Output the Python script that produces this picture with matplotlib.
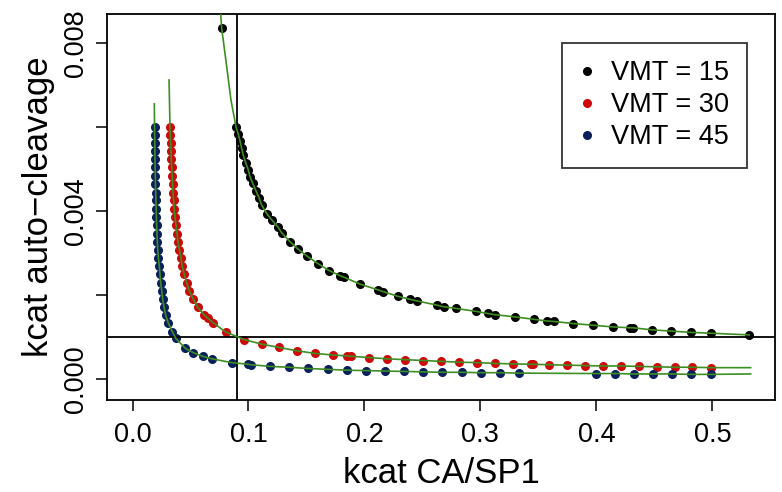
import matplotlib
matplotlib.use("Agg")
import matplotlib.pyplot as plt
from matplotlib.lines import Line2D

plt.rcParams['font.family'] = ['Liberation Sans', 'DejaVu Sans']

# ---------------- data ----------------
vmt15_x = [0.0769, 0.0892, 0.0912, 0.0927, 0.0941, 0.0955, 0.0976, 0.0998, 0.1013, 0.1036,
           0.1065, 0.1093, 0.1114, 0.1157, 0.1200, 0.1257, 0.1286, 0.1358, 0.1429, 0.1502,
           0.1602, 0.1697, 0.1789, 0.1826, 0.1961, 0.2119, 0.2162, 0.2286, 0.2389, 0.2452,
           0.2622, 0.2683, 0.2790, 0.2961, 0.3062, 0.3128, 0.3297, 0.3464, 0.3576, 0.3634,
           0.3800, 0.3972, 0.4140, 0.4289, 0.4312, 0.4478, 0.4645, 0.4815, 0.4984, 0.5317]
vmt15_y = [0.00835, 0.00601, 0.00583, 0.00567, 0.00549, 0.00533, 0.00515, 0.00498, 0.00482, 0.00466,
           0.00448, 0.00430, 0.00414, 0.00394, 0.00379, 0.00361, 0.00348, 0.00327, 0.00309, 0.00293,
           0.00274, 0.00258, 0.00246, 0.00242, 0.00226, 0.00212, 0.00208, 0.00197, 0.00190, 0.00186,
           0.00176, 0.00172, 0.00168, 0.00161, 0.00156, 0.00153, 0.00148, 0.00142, 0.00138, 0.00137,
           0.00132, 0.00128, 0.00124, 0.00122, 0.00122, 0.00117, 0.00114, 0.00111, 0.00109, 0.00105]

vmt30_x = [0.0323, 0.0326, 0.0329, 0.0332, 0.0334, 0.0338, 0.0343, 0.0346, 0.0349, 0.0355,
           0.0360, 0.0366, 0.0375, 0.0384, 0.0392, 0.0405, 0.0418, 0.0428, 0.0447, 0.0467,
           0.0490, 0.0524, 0.0562, 0.0620, 0.0650, 0.0695, 0.0803, 0.0961, 0.1114, 0.1266,
           0.1421, 0.1573, 0.1731, 0.1849, 0.1886, 0.2041, 0.2197, 0.2352, 0.2507, 0.2659,
           0.2817, 0.2972, 0.3125, 0.3283, 0.3435, 0.3455, 0.3590, 0.3748, 0.3901, 0.4053,
           0.4209, 0.4369, 0.4519, 0.4677, 0.4826, 0.4984]
vmt30_y = [0.00601, 0.00582, 0.00563, 0.00543, 0.00523, 0.00504, 0.00484, 0.00464, 0.00444, 0.00425,
           0.00405, 0.00386, 0.00366, 0.00346, 0.00327, 0.00307, 0.00288, 0.00269, 0.00249, 0.00229,
           0.00210, 0.00190, 0.00171, 0.00152, 0.00145, 0.00134, 0.00112, 0.00094, 0.00083, 0.00075,
           0.00067, 0.00061, 0.00057, 0.00055, 0.00054, 0.00051, 0.00048, 0.00046, 0.00044, 0.00042,
           0.00040, 0.00039, 0.00037, 0.00036, 0.00035, 0.00035, 0.00034, 0.00033, 0.00032, 0.00031,
           0.00031, 0.00030, 0.00029, 0.00028, 0.00028, 0.00027]

vmt45_x = [0.0190, 0.0191, 0.0192, 0.0193, 0.0194, 0.0195, 0.0197, 0.0198, 0.0200, 0.0202,
           0.0204, 0.0206, 0.0208, 0.0211, 0.0214, 0.0218, 0.0223, 0.0231, 0.0237, 0.0243,
           0.0252, 0.0260, 0.0272, 0.0286, 0.0309, 0.0343, 0.0372, 0.0456, 0.0522, 0.0604,
           0.0686, 0.0855, 0.1000, 0.1019, 0.1185, 0.1349, 0.1516, 0.1683, 0.1846, 0.2010,
           0.2177, 0.2340, 0.2507, 0.2671, 0.2838, 0.3002, 0.3168, 0.3332, 0.3993, 0.4160,
           0.4323, 0.4490, 0.4653, 0.4817, 0.4984]
vmt45_y = [0.00601, 0.00582, 0.00563, 0.00543, 0.00523, 0.00504, 0.00484, 0.00464, 0.00444, 0.00425,
           0.00405, 0.00386, 0.00366, 0.00346, 0.00327, 0.00307, 0.00288, 0.00269, 0.00249, 0.00229,
           0.00210, 0.00190, 0.00171, 0.00152, 0.00133, 0.00113, 0.00097, 0.00073, 0.00063, 0.00054,
           0.00048, 0.00039, 0.00035, 0.00034, 0.00030, 0.00028, 0.00025, 0.00023, 0.00021, 0.00020,
           0.00019, 0.00018, 0.00017, 0.00016, 0.00016, 0.00015, 0.00015, 0.00014, 0.00013, 0.00013,
           0.00012, 0.00012, 0.00012, 0.00011, 0.00011]

# fitted (green) curves: extra pieces beyond the points
fit15_head_x = [0.0760, 0.0769, 0.0812, 0.0849]
fit15_head_y = [0.00870, 0.00835, 0.00744, 0.00664]
fit15_tail_x = []
fit15_tail_y = []
fit30_head_x = [0.0315]
fit30_head_y = [0.00712]
fit30_tail_x = [0.5330]
fit30_tail_y = [0.00027]
fit45_head_x = [0.0188]
fit45_head_y = [0.00655]
fit45_tail_x = [0.5330]
fit45_tail_y = [0.00012]

labels = ["VMT = 15", "VMT = 30", "VMT = 45"]
colors = ["#000000", "#cc0a0a", "#0a1f5c"]
green = "#3e8e22"

vline_x = 0.09
hline_y = 0.001

xticks = [0.0, 0.1, 0.2, 0.3, 0.4, 0.5]
xticklabels = ["0.0", "0.1", "0.2", "0.3", "0.4", "0.5"]
yticks = [0.000, 0.002, 0.004, 0.006, 0.008]
yticklabels = ["0.000", "", "0.004", "", "0.008"]

# ---------------- figure ----------------
fig = plt.figure(figsize=(7.82, 4.92), dpi=100)
ax = fig.add_axes([107 / 782, 1 - 400 / 492, (775 - 107) / 782, (400 - 14) / 492])

series = [(vmt15_x, vmt15_y, fit15_head_x, fit15_head_y, fit15_tail_x, fit15_tail_y),
          (vmt30_x, vmt30_y, fit30_head_x, fit30_head_y, fit30_tail_x, fit30_tail_y),
          (vmt45_x, vmt45_y, fit45_head_x, fit45_head_y, fit45_tail_x, fit45_tail_y)]

for (sx, sy, hx, hy, tx, ty), c in zip(series, colors):
    ax.plot(sx, sy, linestyle="none", marker="o", ms=5.5, mfc=c, mec=c, zorder=2)

ax.axvline(vline_x, color="black", lw=1.3, zorder=3)
ax.axhline(hline_y, color="black", lw=1.3, zorder=3)

for (sx, sy, hx, hy, tx, ty), c in zip(series, colors):
    pts = sorted(zip(list(sx) + list(hx) + list(tx), list(sy) + list(hy) + list(ty)))
    lx = [p[0] for p in pts]
    ly = [p[1] for p in pts]
    ax.plot(lx, ly, color=green, lw=1.2, zorder=4)

ax.set_xlim(-0.022, 0.554)
ax.set_ylim(-0.0005, 0.00869)

ax.set_xticks(xticks)
ax.set_xticklabels(xticklabels)
ax.set_yticks(yticks)
ax.set_yticklabels(yticklabels, rotation=90, va="center")

ax.tick_params(axis="both", direction="out", length=8, width=1.1, labelsize=19.5, colors="black")
ax.tick_params(axis="x", pad=8)
ax.tick_params(axis="y", pad=5)

for s in ax.spines.values():
    s.set_linewidth(1.3)
    s.set_color("black")

ax.set_xlabel("kcat CA/SP1", fontsize=25, labelpad=6)
ax.set_ylabel("kcat auto\u2212cleavage", fontsize=25, labelpad=6)

handles = [Line2D([], [], linestyle="none", marker="o", ms=5.5, mfc=c, mec=c) for c in colors]
leg = ax.legend(handles, labels, loc="upper right", bbox_to_anchor=(0.9577, 0.9257),
                borderaxespad=0, fontsize=19.5, frameon=True, fancybox=False,
                handlelength=0.6, handletextpad=0.6, labelspacing=0.23,
                borderpad=0.64)
leg.get_frame().set_edgecolor("black")
leg.get_frame().set_linewidth(1.3)

fig.savefig("out.png", dpi=100)
